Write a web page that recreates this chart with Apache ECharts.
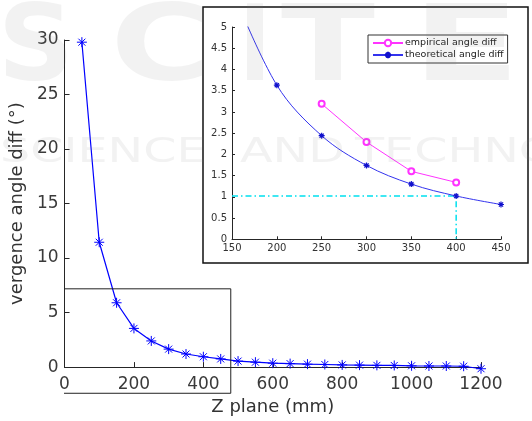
<!DOCTYPE html>
<html>
<head>
<meta charset="utf-8">
<script src="https://cdn.jsdelivr.net/npm/echarts@6/dist/echarts.min.js"></script>
<style>
  html, body { margin: 0; padding: 0; background: #fff; }
  #chart { width: 532px; height: 421px; }
</style>
</head>
<body>
<div id="chart"></div>
<script>
// main plot: vergence angle diff vs Z plane
const zMain = [50, 100, 150, 200, 250, 300, 350, 400, 450, 500, 550, 600,
  650, 700, 750, 800, 850, 900, 950, 1000, 1050, 1100, 1150, 1200];
const angleMain = [29.8, 11.45, 5.9, 3.55, 2.4, 1.65, 1.2, 0.95, 0.75, 0.55, 0.45, 0.36,
  0.32, 0.27, 0.24, 0.2, 0.18, 0.16, 0.15, 0.12, 0.1, 0.1, 0.08, -0.15];

// zoomed inset
const zTheo = [150, 200, 250, 300, 350, 400, 450];
const angleTheo = [5.9, 3.63, 2.44, 1.74, 1.3, 1.02, 0.82];
const zEmp = [250, 300, 350, 400];
const angleEmp = [3.19, 2.29, 1.6, 1.34];

// cyan guide at 400 mm
const guideZ = 400;
const guideAngle = 1.02;

// zoom box on main plot (data coords)
const boxX = [-71, 479];
const boxY = [-2.4, 7.18];

const font = 'DejaVu Sans';
const axisCol = '#262626';
const star = 'path://M5 0L5 10M0 5L10 5M1.5 1.5L8.5 8.5M1.5 8.5L8.5 1.5';

const pairs = (xs, ys) => xs.map((x, i) => [x, ys[i]]);
const plain = v => String(v);

const chart = echarts.init(document.getElementById('chart'));

// faint watermark letters
const wmBig = [['S', 36, 1.0], ['C', 161, 1.3], ['I', 255, 0.8], ['T', 328, 1.3], ['E', 466, 1.5]];
const wmSmall = [['SCIENCE', 0], ['AND', 240], ['TECHNOLOGY', 355]];
const wmFill = 'rgba(128,128,128,0.1)';
const graphics = [
  {
    type: 'rect', z: -10, silent: true,
    shape: { x: 203, y: 7, width: 325, height: 256 },
    style: { fill: '#fff', stroke: '#111', lineWidth: 1.5 }
  }
];
wmBig.forEach(([t, x, sx]) => graphics.push({
  type: 'text', z: 100, silent: true, x: x, y: 52, scaleX: sx,
  style: { text: t, x: 0, y: 0, align: 'center', verticalAlign: 'middle',
    font: 'bold 106px ' + font, fill: wmFill }
}));
wmSmall.forEach(([t, x]) => graphics.push({
  type: 'text', z: 100, silent: true, x: x, y: 153, scaleX: 1.4,
  style: { text: t, x: 0, y: 0, align: 'left', verticalAlign: 'middle',
    font: '34px ' + font, fill: wmFill }
}));

chart.setOption({
  animation: false,
  backgroundColor: '#fff',
  textStyle: { fontFamily: font },
  graphic: graphics,
  grid: [
    { left: 58, top: 40, right: 51, bottom: 48.3 },
    { left: 232, top: 27, right: 31, bottom: 181.7 }
  ],
  legend: {
    left: 368, top: 35,
    orient: 'vertical',
    data: ['empirical angle diff', 'theoretical angle diff'],
    itemWidth: 30, itemHeight: 8, itemGap: 2,
    padding: [3, 4, 3, 4],
    borderColor: '#333', borderWidth: 1, backgroundColor: '#fff',
    textStyle: { fontSize: 9.5, color: '#222', fontFamily: font, padding: [0, 0, 0, -3] }
  },
  xAxis: [
    {
      gridIndex: 0, type: 'value', min: 0, max: 1200, interval: 200,
      name: 'Z plane (mm)', nameLocation: 'middle', nameGap: 29,
      nameTextStyle: { fontSize: 18, color: '#333' },
      axisLine: { lineStyle: { color: axisCol } },
      axisTick: { inside: true, length: 5, lineStyle: { color: axisCol } },
      axisLabel: { fontSize: 17, color: '#3a3a3a', margin: 9, formatter: plain },
      splitLine: { show: false }
    },
    {
      gridIndex: 1, type: 'value', min: 150, max: 450, interval: 50,
      axisLine: { lineStyle: { color: axisCol } },
      axisTick: { inside: true, length: 3, lineStyle: { color: axisCol } },
      axisLabel: { fontSize: 10, color: '#333', margin: 4, formatter: plain },
      splitLine: { show: false }
    }
  ],
  yAxis: [
    {
      gridIndex: 0, type: 'value', min: 0, max: 30, interval: 5,
      name: 'vergence angle diff (°)', nameLocation: 'middle', nameGap: 30,
      nameTextStyle: { fontSize: 18, color: '#333' },
      axisLine: { show: true, lineStyle: { color: axisCol } },
      axisTick: { show: true, inside: true, length: 5, lineStyle: { color: axisCol } },
      axisLabel: { fontSize: 17, color: '#3a3a3a', margin: 6 },
      splitLine: { show: false }
    },
    {
      gridIndex: 1, type: 'value', min: 0, max: 5, interval: 0.5,
      axisLine: { show: true, lineStyle: { color: axisCol } },
      axisTick: { show: true, inside: true, length: 3, lineStyle: { color: axisCol } },
      axisLabel: { fontSize: 10, color: '#333', margin: 5 },
      splitLine: { show: false }
    }
  ],
  series: [
    {
      name: 'main', type: 'line', xAxisIndex: 0, yAxisIndex: 0, clip: false,
      data: pairs(zMain, angleMain),
      symbol: star, symbolSize: 10,
      lineStyle: { color: '#0000ff', width: 1.2 },
      itemStyle: { color: '#0000ff', borderColor: '#0000ff', borderWidth: 1 }
    },
    {
      name: 'zoom box', type: 'line', xAxisIndex: 0, yAxisIndex: 0, clip: false, silent: true,
      data: [[boxX[0], boxY[1]], [boxX[1], boxY[1]], [boxX[1], boxY[0]], [boxX[0], boxY[0]], [boxX[0], boxY[1]]],
      symbol: 'none',
      lineStyle: { color: '#222', width: 1 }
    },
    {
      name: 'guide', type: 'line', xAxisIndex: 1, yAxisIndex: 1, silent: true,
      data: [[150, guideAngle], [guideZ, guideAngle], [guideZ, 0]],
      symbol: 'none',
      lineStyle: { color: '#00e0ee', width: 1.5, type: [6, 3, 1.5, 3] }
    },
    {
      name: 'empirical angle diff', type: 'line', xAxisIndex: 1, yAxisIndex: 1,
      data: pairs(zEmp, angleEmp),
      symbol: 'emptyCircle', symbolSize: 6,
      lineStyle: { color: '#ff33ff', width: 1 },
      itemStyle: { color: '#ff33ff', borderColor: '#ff33ff', borderWidth: 1 }
    },
    {
      name: 'theoretical angle diff', type: 'line', xAxisIndex: 1, yAxisIndex: 1,
      data: pairs(zTheo, angleTheo),
      smooth: 0.35,
      symbol: star, symbolSize: 6,
      lineStyle: { color: '#3333ee', width: 1 },
      itemStyle: { color: '#1010cc', borderColor: '#1010cc', borderWidth: 1.2 }
    }
  ]
});
</script>
</body>
</html>
